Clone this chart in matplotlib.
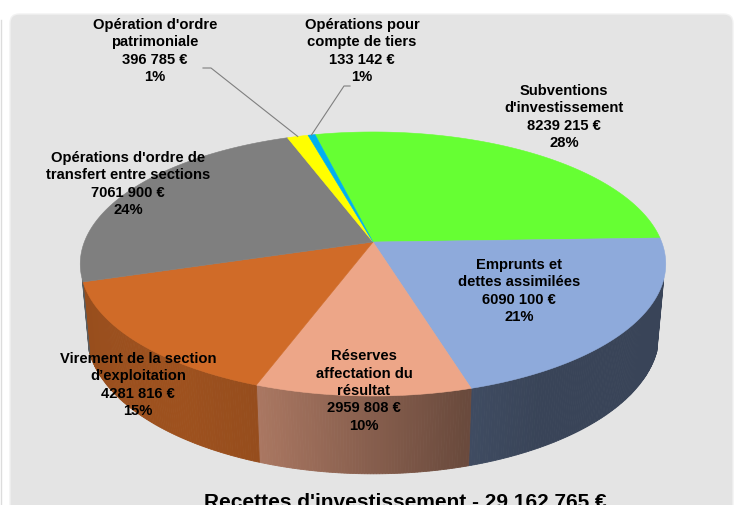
import numpy as np
import matplotlib
matplotlib.use("Agg")
from matplotlib import pyplot as plt
from matplotlib.patches import Polygon, FancyBboxPatch

# data
labels = ["Subventions\nd'investissement", "Emprunts et\ndettes assimilées",
          "Réserves\naffectation du\nrésultat", "Virement de la section\nd’exploitation",
          "Opérations d'ordre de\ntransfert entre sections", "Opération d'ordre\npatrimoniale",
          "Opérations pour\ncompte de tiers"]
values = [8239215, 6090100, 2959808, 4281816, 7061900, 396785, 133142]
pcts = ["28%", "21%", "10%", "15%", "24%", "1%", "1%"]
amounts = ["8239 215 €", "6090 100 €", "2959 808 €", "4281 816 €", "7061 900 €", "396 785 €", "133 142 €"]
colors = ["#66ff33", "#8eaadb", "#eda688", "#d06b28", "#7f7f7f", "#ffff00", "#00b0f0"]
title = "Recettes d'investissement - 29 162 765 €"

# label centres (pixels) and leader-line elbows
label_pos = [(564, 117), (519, 291), (364, 391), (138, 385), (128, 184), (155, 51), (362, 51)]
leaders = {5: (203, 68, 211, 68), 6: (350, 86, 344, 86)}

# 3d perspective setup
cx, cy = 373, 242
F, L = 1553.0, 5.38
phi = np.radians(26.4)
s, c = np.sin(phi), np.cos(phi)
t = 0.271
start = -13.5


def proj(th, r=1.0, y=0.0):
    th = np.radians(th)
    X = r * np.sin(th)
    Z = -r * np.cos(th)
    depth = L - y * s - Z * c
    u = F * X / depth
    v = F * (y * c - Z * s) / depth
    return cx + u, cy - v


def shade(th):
    th = th % 360
    pts = [(0, 0.4), (150, 0.4), (165, 0.45), (200, 0.72), (215, 0.76), (240, 0.74), (260, 0.72), (360, 0.4)]
    return np.interp(th, [p[0] for p in pts], [p[1] for p in pts])


fig = plt.figure(figsize=(7.35, 5.05), dpi=100)
ax = fig.add_axes([0, 0, 1, 1])
ax.set_xlim(0, 735)
ax.set_ylim(505, 0)
ax.axis("off")

ax.add_patch(FancyBboxPatch((10, 14), 723, 520, boxstyle="round,pad=0,rounding_size=9",
                            facecolor="#e4e4e4", edgecolor="#f2f2f2", lw=1))
ax.plot([1.5, 1.5], [20, 505], color="#dcdcdc", lw=1)

total = sum(values)
angles = [start]
for v in values:
    angles.append(angles[-1] + 360 * v / total)

# side walls (front part only)
zmin = 0.28
for i in range(len(values)):
    a0, a1 = angles[i], angles[i + 1]
    n = max(2, int((a1 - a0) / 0.5))
    edges = np.linspace(a0, a1, n + 1)
    base = np.array(matplotlib.colors.to_rgb(colors[i]))
    for j in range(n):
        b0, b1 = edges[j], edges[j + 1]
        if -np.cos(np.radians((b0 + b1) / 2)) < zmin:
            continue
        pts = [proj(b0), proj(b1), proj(b1, y=-t), proj(b0, y=-t)]
        col = base * shade((b0 + b1) / 2)
        ax.add_patch(Polygon(pts, closed=True, facecolor=col, edgecolor=col, lw=0.6))

# top faces
for i in range(len(values)):
    a0, a1 = angles[i], angles[i + 1]
    arc = np.linspace(a0, a1, max(3, int(a1 - a0) * 2))
    pts = [(cx, cy)] + [proj(a) for a in arc]
    ax.add_patch(Polygon(pts, closed=True, facecolor=colors[i], edgecolor=colors[i], lw=0.4))

# labels
for i in range(len(values)):
    x, y = label_pos[i]
    ax.text(x, y, labels[i] + "\n" + amounts[i] + "\n" + pcts[i], ha="center", va="center",
            fontsize=10.6, fontweight="bold", family="Liberation Sans", linespacing=1.3)

for i, (x0, y0, x1, y1) in leaders.items():
    mx, my = proj((angles[i] + angles[i + 1]) / 2)
    ax.plot([x0, x1, mx], [y0, y1, my], color="#7f7f7f", lw=0.8)

ax.text(405, 503, title, ha="center", va="center", fontsize=15, fontweight="bold", family="Liberation Sans")

fig.savefig("out.png", dpi=100)
